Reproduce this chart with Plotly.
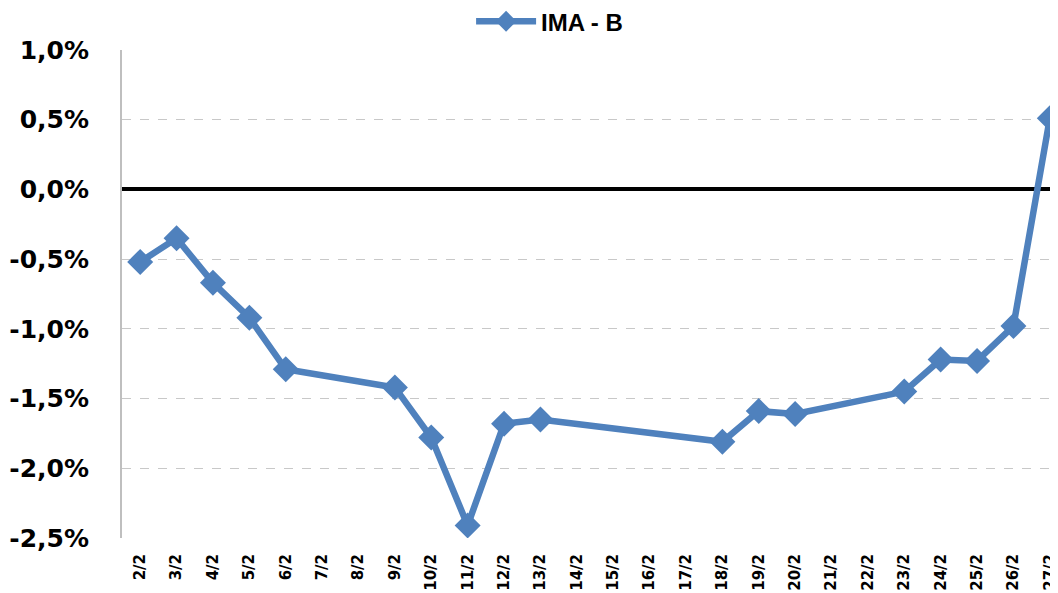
import plotly.graph_objects as go

dates = ["2/2", "3/2", "4/2", "5/2", "6/2", "7/2", "8/2", "9/2", "10/2", "11/2",
         "12/2", "13/2", "14/2", "15/2", "16/2", "17/2", "18/2", "19/2", "20/2",
         "21/2", "22/2", "23/2", "24/2", "25/2", "26/2", "27/2"]
ima_b = [-0.0052, -0.0035, -0.0067, -0.0092, -0.0129, None, None, -0.0142, -0.0178, -0.0241,
         -0.0168, -0.0165, None, None, None, None, -0.0181, -0.0159, -0.0161,
         None, None, -0.0145, -0.0122, -0.0123, -0.0098, 0.0051]
y_ticks = [0.01, 0.005, 0.0, -0.005, -0.01, -0.015, -0.02, -0.025]
y_labels = ["1,0%", "0,5%", "0,0%", "-0,5%", "-1,0%", "-1,5%", "-2,0%", "-2,5%"]

fig = go.Figure()
fig.add_trace(go.Scatter(
    x=dates, y=ima_b, name="IMA - B", mode="lines+markers", connectgaps=True,
    line={"color": "#4F81BD", "width": 6.5},
    marker={"symbol": "diamond", "size": 20, "color": "#4F81BD"},
))

# page body adds an 8px offset, so margins are a bit smaller than the target pixels
fig.update_layout(
    width=1060, height=593,
    margin=go.layout.Margin(t=42, l=114, r=0, b=63, autoexpand=False),
    plot_bgcolor="white", paper_bgcolor="white",
    showlegend=True,
    legend={"orientation": "h", "x": 0.452, "xanchor": "center",
            "yref": "container", "y": 0.977, "yanchor": "middle",
            "font": {"family": "Liberation Sans", "size": 24, "color": "black", "weight": "bold"},
            "itemwidth": 60},
    font={"family": "DejaVu Sans", "color": "black"},
)
fig.update_xaxes(
    type="category", range=[-0.5, 25.5], tickangle=-90, automargin=False,
    tickfont={"family": "DejaVu Sans", "size": 15, "weight": "bold"},
    showgrid=False, showline=False, ticks="", ticklabelstandoff=12,
)
fig.update_yaxes(
    range=[-0.025, 0.01], tickvals=y_ticks, ticktext=y_labels, automargin=False,
    tickfont={"family": "DejaVu Sans", "size": 25, "weight": "bold"},
    showgrid=True, gridcolor="#c8c8c8", griddash="dash", gridwidth=1,
    zeroline=True, zerolinecolor="black", zerolinewidth=3.5,
    showline=True, linecolor="#bfbfbf", linewidth=2, ticklen=0, ticks="",
    ticklabelstandoff=26,
)
fig.write_html("out.html")
